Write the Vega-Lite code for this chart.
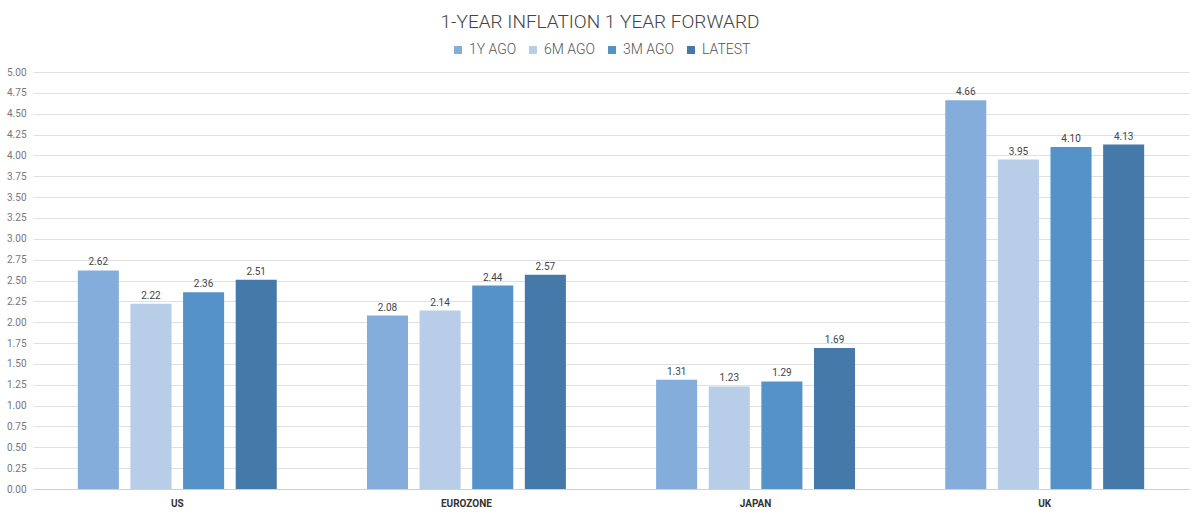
{
  "$schema": "https://vega.github.io/schema/vega-lite/v6.json",
  "width": 1156,
  "height": 417,
  "autosize": {"type": "none"},
  "padding": {"left": 33, "top": 72, "right": 11, "bottom": 25},
  "background": "white",
  "title": {
    "text": "1-YEAR INFLATION 1 YEAR FORWARD",
    "anchor": "middle",
    "offset": 11,
    "dx": -11,
    "fontSize": 19,
    "font": "Roboto, sans-serif",
    "fontWeight": 300,
    "color": "#444444"
  },
  "config": {
    "view": {"stroke": null},
    "font": "Roboto, sans-serif"
  },
  "data": {
    "values": [
      {"region": "US", "period": "1Y AGO", "value": 2.62},
      {"region": "US", "period": "6M AGO", "value": 2.22},
      {"region": "US", "period": "3M AGO", "value": 2.36},
      {"region": "US", "period": "LATEST", "value": 2.51},
      {"region": "EUROZONE", "period": "1Y AGO", "value": 2.08},
      {"region": "EUROZONE", "period": "6M AGO", "value": 2.14},
      {"region": "EUROZONE", "period": "3M AGO", "value": 2.44},
      {"region": "EUROZONE", "period": "LATEST", "value": 2.57},
      {"region": "JAPAN", "period": "1Y AGO", "value": 1.31},
      {"region": "JAPAN", "period": "6M AGO", "value": 1.23},
      {"region": "JAPAN", "period": "3M AGO", "value": 1.29},
      {"region": "JAPAN", "period": "LATEST", "value": 1.69},
      {"region": "UK", "period": "1Y AGO", "value": 4.66},
      {"region": "UK", "period": "6M AGO", "value": 3.95},
      {"region": "UK", "period": "3M AGO", "value": 4.10},
      {"region": "UK", "period": "LATEST", "value": 4.13}
    ]
  },
  "encoding": {
    "x": {
      "field": "region",
      "type": "nominal",
      "sort": ["US", "EUROZONE", "JAPAN", "UK"],
      "scale": {"paddingInner": 0.312, "paddingOuter": 0.155},
      "axis": {
        "title": null,
        "labelAngle": 0,
        "ticks": false,
        "domain": true,
        "domainColor": "#d0d0d0",
        "labelFontSize": 10,
        "labelFontWeight": "bold",
        "labelColor": "#333333",
        "labelPadding": 9
      }
    },
    "xOffset": {
      "field": "period",
      "type": "nominal",
      "sort": ["1Y AGO", "6M AGO", "3M AGO", "LATEST"],
      "scale": {"paddingInner": 0.22, "paddingOuter": 0}
    },
    "y": {
      "field": "value",
      "type": "quantitative",
      "scale": {"domain": [0, 5], "nice": false},
      "axis": {
        "title": null,
        "values": [0, 0.25, 0.5, 0.75, 1, 1.25, 1.5, 1.75, 2, 2.25, 2.5, 2.75, 3, 3.25, 3.5, 3.75, 4, 4.25, 4.5, 4.75, 5],
        "format": ".2f",
        "domain": false,
        "ticks": false,
        "gridColor": "#e0e0e0",
        "labelFontSize": 10,
        "labelColor": "#777777",
        "labelPadding": 7
      }
    }
  },
  "layer": [
    {
      "mark": {"type": "bar"},
      "encoding": {
        "color": {
          "field": "period",
          "type": "nominal",
          "sort": ["1Y AGO", "6M AGO", "3M AGO", "LATEST"],
          "scale": {
            "domain": ["1Y AGO", "6M AGO", "3M AGO", "LATEST"],
            "range": ["#84addb", "#b7cde8", "#5592c8", "#4479a9"]
          },
          "legend": {
            "title": null,
            "orient": "none",
            "direction": "horizontal",
            "legendX": 418,
            "legendY": -29,
            "symbolType": "square",
            "symbolSize": 64,
            "symbolStrokeWidth": 0,
            "labelFontSize": 14,
            "labelFontWeight": 300,
            "labelColor": "#555555",
            "labelOffset": 4,
            "columnPadding": 9
          }
        }
      }
    },
    {
      "mark": {"type": "text", "dy": -8, "fontSize": 10, "color": "#444444"},
      "encoding": {
        "text": {"field": "value", "type": "quantitative", "format": ".2f"}
      }
    }
  ]
}
